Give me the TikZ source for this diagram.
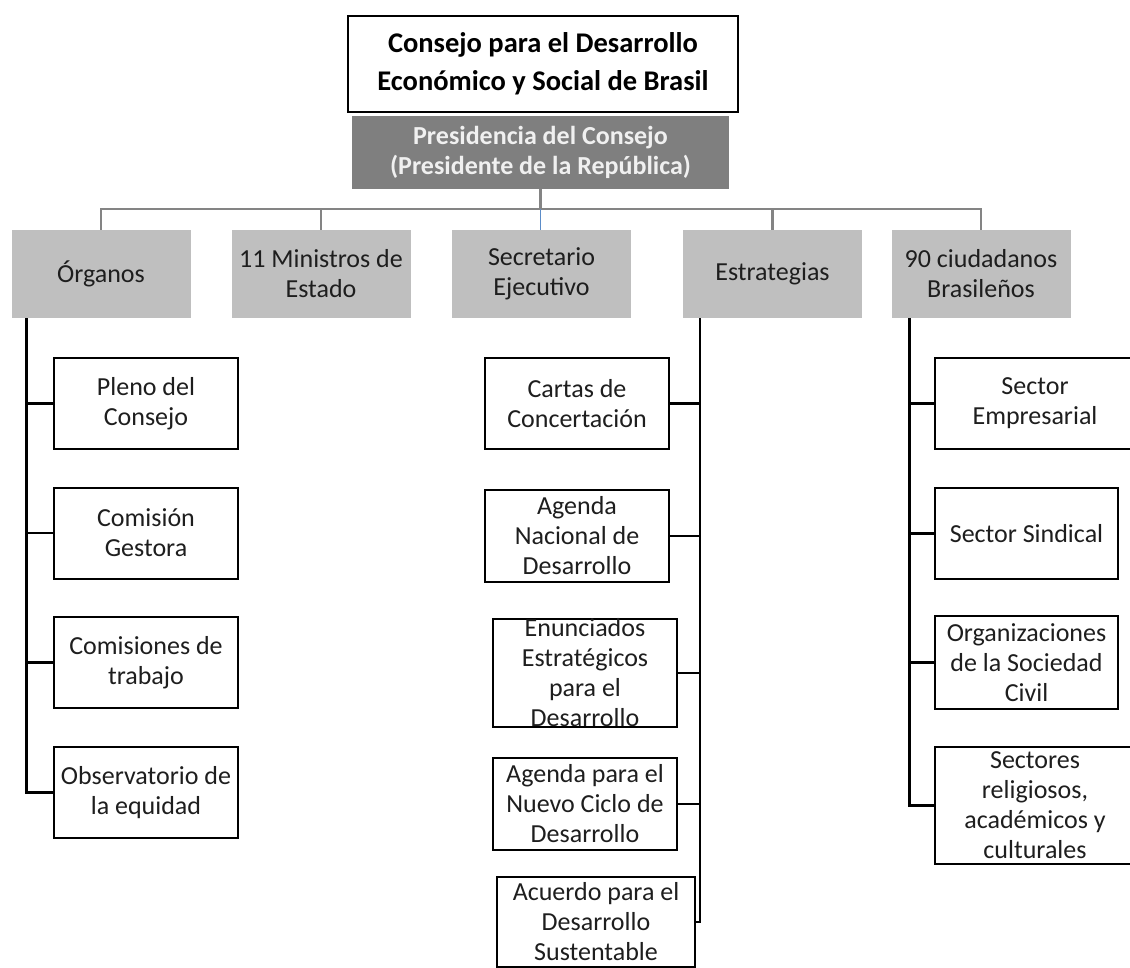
\documentclass[tikz,border=0pt]{standalone}
\usepackage{fontspec}
\setmainfont{Carlito}
\usetikzlibrary{positioning,calc}
\definecolor{presgray}{HTML}{7F7F7F}
\definecolor{areagray}{HTML}{BFBFBF}
\definecolor{linegray}{HTML}{848484}
\definecolor{linkblue}{HTML}{5B8CC8}
\definecolor{textgray}{HTML}{1E1E1E}
\tikzset{
  titlebox/.style={draw=black,line width=2pt,fill=white,minimum width=390,minimum height=96,inner sep=0pt,align=center,font=\fontsize{28.5}{38}\selectfont\bfseries},
  presbox/.style={fill=presgray,text=white!94!black,minimum width=377,minimum height=73,inner sep=0pt,align=center,font=\fontsize{26}{30}\selectfont\bfseries},
  areabox/.style={fill=areagray,text=textgray,minimum width=179,minimum height=88,inner sep=0pt,align=center,font=\fontsize{26}{30}\selectfont},
  itembox/.style={draw=black,line width=2pt,fill=white,text=textgray,minimum width=184,minimum height=91,inner sep=0pt,align=center,font=\fontsize{26}{30}\selectfont},
  branch/.style={draw=linegray,line width=2.2pt},
  tree/.style={draw=black,line width=2.4pt}
}
\begin{document}
\begin{tikzpicture}[x=1pt,y=-1pt]
\useasboundingbox (0,0) rectangle (1130,967);
\clip (0,0) rectangle (1130,967);
% cabecera
\node[titlebox] (title) at (543,64) {Consejo para el Desarrollo\\Económico y Social de Brasil};
\node[presbox] (pres) at (540.5,152.5) {Presidencia del Consejo\\(Presidente de la República)};
% segundo nivel
\node[areabox] (org) at (101,274) {Órganos};
\node[areabox] (mins) at (321,274) {11 Ministros de\\Estado};
\node[areabox] (sec) at (541.5,274) {Secretario\\Ejecutivo};
\node[areabox] (est) at (772.5,274) {Estrategias};
\node[areabox] (ciu) at (981,274) {90 ciudadanos\\Brasileños};
%
\coordinate (bar) at (540.5,209);
\draw[branch] (pres.south) -- (bar);
\draw[branch] (org.north) |- (bar) -| (ciu.north);
\draw[branch] (mins.north) -- (mins.north |- bar);
\draw[branch] (est.north) -- (est.north |- bar);
\draw[linkblue,line width=1.6pt] (bar) -- (bar |- sec.north);
% organos
\node[itembox] (pleno) at (146,403.5) {Pleno del\\Consejo};
\node[itembox] (gest) at (146,533) {Comisión\\Gestora};
\node[itembox] (trab) at (146,662.5) {Comisiones de\\trabajo};
\node[itembox] (obs) at (146,792.5) {Observatorio de\\la equidad};
\coordinate (orgS) at ([xshift=15]org.south west);
\draw[tree] (orgS) |- (obs.west);
\draw[tree] (orgS |- pleno.west) -- (pleno.west);
\draw[tree] (orgS |- gest.west) -- (gest.west);
\draw[tree] (orgS |- trab.west) -- (trab.west);
% estrategias
\node[itembox] (cartas) at (577,403.5) {Cartas de\\Concertación};
\node[itembox,minimum height=92] (agnac) at (577,536) {Agenda\\Nacional de\\Desarrollo};
\node[itembox,minimum height=108] (enun) at (585,673) {Enunciados\\Estratégicos\\para el\\Desarrollo};
\node[itembox,minimum height=92] (nuevo) at (585,804) {Agenda para el\\Nuevo Ciclo de\\Desarrollo};
\node[itembox,minimum width=198,minimum height=90] (acu) at (596,922) {Acuerdo para el\\Desarrollo\\Sustentable};
\coordinate (estS) at ([xshift=17]est.south west);
\draw[tree] (estS) |- (acu.east);
\draw[tree] (estS |- cartas.east) -- (cartas.east);
\draw[tree] (estS |- agnac.east) -- (agnac.east);
\draw[tree] (estS |- enun.east) -- (enun.east);
\draw[tree] (estS |- nuevo.east) -- (nuevo.east);
% ciudadanos
\node[itembox,minimum width=200] (emp) at (1035,403.5) {Sector\\Empresarial};
\node[itembox,minimum width=183] (sind) at (1026.5,533.5) {Sector Sindical};
\node[itembox,minimum width=183,minimum height=93] (socc) at (1026.5,662.5) {Organizaciones\\de la Sociedad\\Civil};
\node[itembox,minimum width=200,minimum height=117] (relig) at (1035,805.5) {Sectores\\religiosos,\\académicos y\\culturales};
\coordinate (ciuS) at ([xshift=18]ciu.south west);
\draw[tree] (ciuS) |- (relig.west);
\draw[tree] (ciuS |- emp.west) -- (emp.west);
\draw[tree] (ciuS |- sind.west) -- (sind.west);
\draw[tree] (ciuS |- socc.west) -- (socc.west);
\end{tikzpicture}
\end{document}
